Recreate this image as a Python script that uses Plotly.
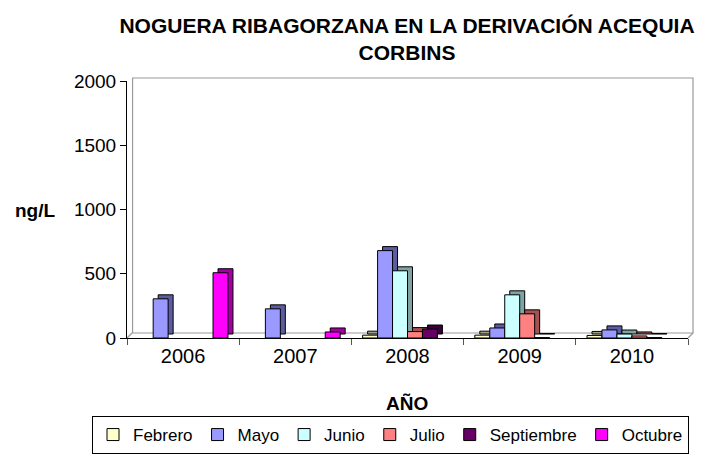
import plotly.graph_objects as go

years = ["2006", "2007", "2008", "2009", "2010"]
febrero = [None, None, 22, 22, 20]
mayo = [305, 227, 680, 78, 63]
junio = [None, None, 523, 336, 31]
julio = [None, None, 50, 188, 16]
septiembre = [None, None, 70, 3, 3]
octubre = [508, 47, None, None, None]

series_names = ["Febrero", "Mayo", "Junio", "Julio", "Septiembre", "Octubre"]
series_values = [febrero, mayo, junio, julio, septiembre, octubre]
face_colors = ["#FFFFCC", "#9999FF", "#CCFFFF", "#FF8080", "#660066", "#FF00FF"]
side_colors = ["#A3A37F", "#5C5CA3", "#7FA3A3", "#A35252", "#3A003A", "#A300A3"]

FONT = "Liberation Sans, Arial, sans-serif"
W, H = 707, 456
L, R, T, B = 127, 19, 81, 118
plot_w = W - L - R
plot_h = H - T - B
ymax = 2000

n = len(series_names)
group_w = 0.8
bw = group_w / n
dx = 5 / (plot_w / len(years))      # depth offset in category units
dy = 4 / plot_h * ymax              # depth offset in data units

fig = go.Figure()

# depth (side/top) faces drawn behind
for i, (name, vals) in enumerate(zip(series_names, series_values)):
    fig.add_trace(go.Bar(
        x=years, y=vals, base=dy, width=bw, offset=-group_w / 2 + i * bw + dx,
        marker=dict(color=side_colors[i], line=dict(color="black", width=1)),
        showlegend=False, hoverinfo="skip",
    ))

# front faces
for i, (name, vals) in enumerate(zip(series_names, series_values)):
    fig.add_trace(go.Bar(
        x=years, y=vals, width=bw, offset=-group_w / 2 + i * bw, name=name,
        marker=dict(color=face_colors[i], line=dict(color="black", width=1)),
    ))

# back wall / floor decoration
ox = 5 / plot_w
oy = 5 / plot_h
fig.add_shape(type="rect", xref="x domain", yref="y domain",
              x0=ox + 0.001, x1=1 + ox, y0=oy, y1=1 + 3 / plot_h,
              line=dict(color="#9A9A9A", width=1.2), layer="below")
fig.add_shape(type="line", xref="x domain", yref="y domain",
              x0=0, y0=0, x1=ox, y1=oy, line=dict(color="#9A9A9A", width=1.2), layer="below")
fig.add_shape(type="line", xref="x domain", yref="y domain",
              x0=1, y0=0, x1=1 + ox, y1=oy, line=dict(color="#9A9A9A", width=1.2), layer="below")

fig.update_layout(
    width=W, height=H,
    margin=dict(l=L, r=R, t=T, b=B, autoexpand=False),
    paper_bgcolor="white", plot_bgcolor="white",
    barmode="overlay",
    font=dict(family=FONT, size=19, color="black"),
    title=dict(
        text="NOGUERA RIBAGORZANA EN LA DERIVACIÓN ACEQUIA<br>CORBINS",
        font=dict(family=FONT, size=21, color="black", weight="bold"),
        x=407 / W, xanchor="center", xref="container",
        y=1 - 33 / H, yanchor="top", yref="container",
    ),
    xaxis=dict(
        type="category", showline=True, linecolor="black", linewidth=1,
        ticks="outside", tickson="boundaries", ticklen=6, tickcolor="#555555",
        showgrid=False, zeroline=False, tickfont=dict(size=20),
    ),
    yaxis=dict(
        range=[0, ymax], tickvals=[0, 500, 1000, 1500, 2000],
        showline=True, linecolor="black", linewidth=1,
        ticks="outside", ticklen=6, tickcolor="black",
        showgrid=False, zeroline=False, tickfont=dict(size=19),
    ),
    legend=dict(
        orientation="h", xref="paper", yref="paper",
        x=(92 - L) / plot_w, xanchor="left",
        y=(H - B - 416) / plot_h, yanchor="top",
        bordercolor="black", borderwidth=1, font=dict(size=17),
        itemwidth=30, tracegroupgap=0, traceorder="normal",
    ),
    showlegend=True,
    annotations=[
        dict(text="ng/L", xref="paper", yref="paper",
             x=(57 - L) / plot_w, xanchor="right",
             y=(H - B - 210) / plot_h, yanchor="middle",
             showarrow=False, font=dict(size=19, weight="bold")),
        dict(text="AÑO", xref="paper", yref="paper",
             x=(407 - L) / plot_w, xanchor="center",
             y=(H - B - 403) / plot_h, yanchor="middle",
             showarrow=False, font=dict(size=19, weight="bold")),
    ],
)

fig.write_html("out.html", config={"displayModeBar": False},
               post_script="document.body.style.margin='0';")
